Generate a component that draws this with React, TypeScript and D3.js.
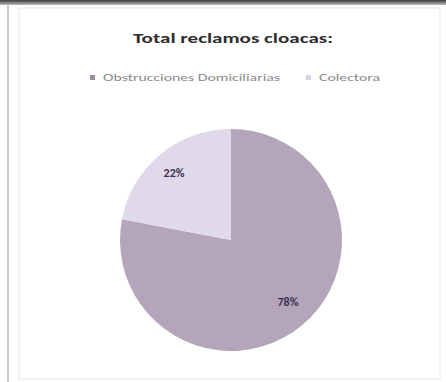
import React from "react";
import * as d3 from "d3";

const categories = ["Obstrucciones Domiciliarias", "Colectora"];
const values = [78, 22];
const labels = ["78%", "22%"];
const colors = ["#b4a5ba", "#e0d9ea"];

export default function App() {
  const W = 446, H = 382;
  const cx = 231, cy = 240, r = 111;
  const pie = d3.pie<number>().sort(null).value((d) => d)(values);
  const arc = d3.arc<d3.PieArcDatum<number>>().innerRadius(0).outerRadius(r);
  const labelArc = d3.arc<d3.PieArcDatum<number>>().innerRadius(r * 0.72).outerRadius(r * 0.72);
  const font = "Carlito, 'Liberation Sans', 'Open Sans', sans-serif";
  const legendX = [90, 306];
  const legendLen = [177, 61];
  const labelOff = [[6, 2], [-6, -4]];
  return (
    <svg width={W} height={H} style={{ position: "absolute", left: 0, top: 0, background: "#fff" }} fontFamily={font}>
      <defs>
        <linearGradient id="topband" x1="0" y1="0" x2="0" y2="1">
          <stop offset="0" stopColor="#3a3a3a" />
          <stop offset="1" stopColor="#bdbdbd" />
        </linearGradient>
      </defs>
      <rect x={0} y={0} width={W} height={H} fill="#fff" />
      <rect x={0} y={0} width={W} height={5} fill="url(#topband)" />
      <rect x={7} y={5} width={2} height={H - 5} fill="#c8c8c8" />
      <rect x={19} y={8} width={421} height={371} fill="#fff" stroke="#e6e6e6" strokeWidth={1} />
      <text x={133} y={43} fontSize={14.5} fontWeight="bold" fill="#2e2e2e" textLength={200} lengthAdjust="spacingAndGlyphs">
        Total reclamos cloacas:
      </text>
      {categories.map((c, i) => (
        <g key={c}>
          <rect x={legendX[i]} y={75} width={5} height={5} fill={i === 0 ? "#9a8f9c" : "#d8d2e2"} />
          <text x={legendX[i] + 13} y={81} fontSize={10.5} fill="#8a8a8a" textLength={legendLen[i]} lengthAdjust="spacingAndGlyphs">{c}</text>
        </g>
      ))}
      <g transform={`translate(${cx},${cy})`}>
        {pie.map((p, i) => (
          <path key={i} d={arc(p) || ""} fill={colors[i]} />
        ))}
        {pie.map((p, i) => {
          const [lx, ly] = labelArc.centroid(p);
          return (
            <text key={"l" + i} x={lx + labelOff[i][0]} y={ly + labelOff[i][1]} textAnchor="middle" dominantBaseline="middle" fontSize={12} fontWeight="bold" fill="#3a3050">
              {labels[i]}
            </text>
          );
        })}
      </g>
    </svg>
  );
}
